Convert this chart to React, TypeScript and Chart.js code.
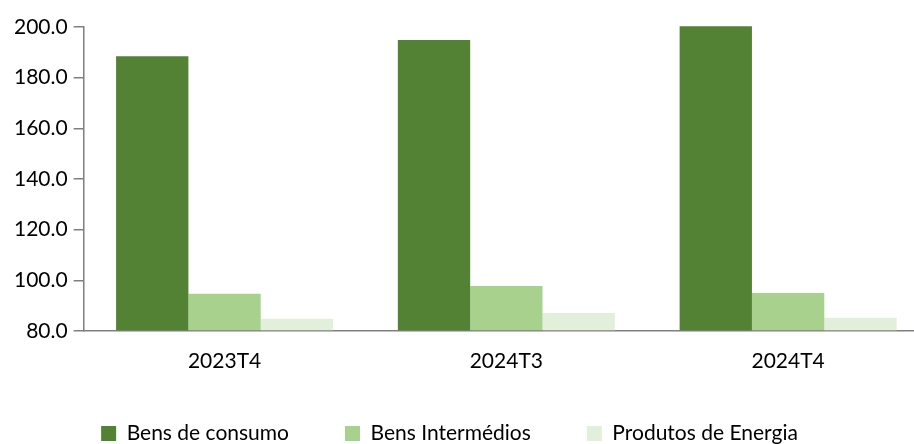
import React, { useEffect, useRef } from "react";
import { Chart, registerables } from "chart.js";

Chart.register(...registerables);

const categories = ["2023T4", "2024T3", "2024T4"];
const bensConsumo = [188.5, 194.9, 200.3];
const bensIntermedios = [94.7, 97.8, 95.0];
const produtosEnergia = [84.8, 87.1, 85.2];
const seriesNames = ["Bens de consumo", "Bens Intermédios", "Produtos de Energia"];
const seriesColors = ["#548235", "#A9D18E", "#E2EFDA"];
const yTicks = [80, 100, 120, 140, 160, 180, 200];

const FONT = "Lato, 'Open Sans', sans-serif";
const LEGEND_PAD = 56;

const legendShift = {
  id: "legendShift",
  afterLayout(chart: any) {
    const lg = chart.legend;
    if (lg) {
      lg.left -= 19;
      lg.right -= 19;
      lg.top = 423 - LEGEND_PAD;
      lg.bottom = 444;
      lg.height = lg.bottom - lg.top;
    }
  },
};

export default function App() {
  const ref = useRef<HTMLCanvasElement | null>(null);
  useEffect(() => {
    if (!ref.current) return;
    const chart = new Chart(ref.current, {
      type: "bar",
      data: {
        labels: categories,
        datasets: [bensConsumo, bensIntermedios, produtosEnergia].map((d, i) => ({
          label: seriesNames[i],
          data: d,
          base: 80,
          backgroundColor: seriesColors[i],
          borderWidth: 0,
          categoryPercentage: 0.77,
          barPercentage: 1,
          clip: false as any,
        })),
      },
      options: {
        animation: false,
        responsive: true,
        maintainAspectRatio: false,
        layout: { padding: { left: 8, top: 27, right: 1, bottom: 0 } },
        plugins: {
          tooltip: { enabled: false },
          legend: {
            position: "bottom",
            maxHeight: 40,
            labels: {
              boxWidth: 15,
              boxHeight: 15,
              padding: LEGEND_PAD,
              color: "#000",
              font: { family: FONT, size: 21 },
            },
          },
        },
        scales: {
          x: {
            grid: { display: false, drawTicks: false },
            border: { display: true, color: "#7f7f7f", width: 1.5 },
            ticks: { color: "#000", font: { family: FONT, size: 21 }, padding: 18 },
            afterFit: (scale: any) => {
              scale.height = 73;
            },
          },
          y: {
            min: 80,
            max: 200,
            afterBuildTicks: (scale: any) => {
              scale.ticks = yTicks.map((v) => ({ value: v }));
            },
            grid: { drawOnChartArea: false, drawTicks: true, tickLength: 10, color: "#7f7f7f", lineWidth: 1.5 },
            border: { display: true, color: "#7f7f7f", width: 1.5 },
            ticks: {
              color: "#000",
              font: { family: FONT, size: 21 },
              padding: 6,
              callback: (v: any) => Number(v).toFixed(1),
            },
          },
        },
      },
      plugins: [legendShift],
    });
    return () => chart.destroy();
  }, []);
  return (
    <div style={{ position: "fixed", left: 0, top: 0, width: 914, height: 444, overflow: "hidden", background: "#fff" }}>
      <div style={{ position: "relative", width: 930, height: 444 }}>
        <canvas ref={ref} />
      </div>
    </div>
  );
}
